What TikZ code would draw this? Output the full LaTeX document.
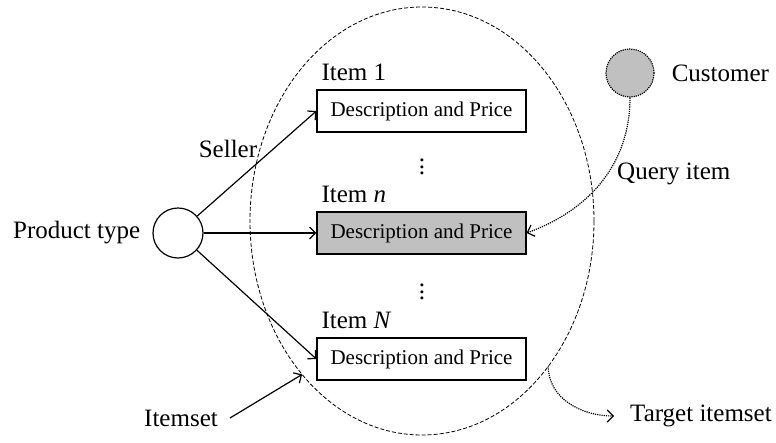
\documentclass[tikz,border=0pt]{standalone}
\usepackage{fontspec}
\setmainfont{Liberation Serif}
\usetikzlibrary{positioning,arrows.meta,shapes.geometric}
\definecolor{boxgray}{RGB}{192,192,192}
\newcommand{\itemdots}{\vbox{\baselineskip6.2pt\lineskiplimit0pt\hbox{.}\hbox{.}\hbox{.}}}

\tikzset{
  desc/.style={draw,line width=1.2pt,minimum width=209pt,minimum height=42pt,
    inner sep=0pt,font=\fontsize{21}{25}\selectfont},
  lbl/.style={font=\fontsize{25}{30}\selectfont,inner sep=0pt},
  arr/.style={-{Straight Barb[length=6pt,width=12pt]},line width=1.2pt},
  darr/.style={arr,densely dotted},
}

\begin{document}
\begin{tikzpicture}[x=1pt,y=-1pt]
  \useasboundingbox (0,0) rectangle (776,442);
  % the itemset
  \node[draw,ellipse,line width=0.8pt,dash pattern=on 4pt off 2pt,
    inner sep=0pt,outer sep=0pt,minimum width=344pt,minimum height=428pt] (set) at (422,221) {};
  %
  \node[circle,draw,line width=1.2pt,minimum size=50pt] (prod) at (178,233) {};
  \node[lbl,left=12pt of prod] (prodlbl) {Product type};
  %
  \node[desc] (item1) at (421.5,111) {Description and Price};
  \node[desc,fill=boxgray] (itemn) at (421.5,233) {Description and Price};
  \node[desc] (itemN) at (421.5,359) {Description and Price};
  \node[lbl,above right=8pt and 5pt of item1.north west] (lbl1) {Item 1};
  \node[lbl,above right=8pt and 5pt of itemn.north west] (lbln) {Item \textit{n}};
  \node[lbl,above right=8pt and 5pt of itemN.north west] (lblN) {Item \textit{N}};
  \node[lbl] (dots1) at (422,167) {\itemdots};
  \node[lbl] (dots2) at (422,292) {\itemdots};
  %
  \draw[arr] (prod) -- (item1.west);
  \draw[arr] (prod) -- (itemn.west);
  \draw[arr] (prod) -- (itemN.west);
  \node[lbl] (seller) at (228,149) {Seller};
  %
  \node[circle,draw,densely dotted,fill=boxgray,line width=1.2pt,minimum size=48pt] (cust) at (630,73) {};
  \node[lbl,right=17pt of cust] (custlbl) {Customer};
  \draw[darr] (cust.south) to[out=-90,in=20] (itemn.east);
  \node[lbl,anchor=west] (query) at (617,174) {Query item};
  %
  \node[lbl] (itemset) at (181,418) {Itemset};
  \draw[arr] ([xshift=12pt]itemset.east) -- (set.-128);
  \node[lbl,anchor=west] (target) at (630,416) {Target itemset};
  \draw[darr] (set.-49) to[out=-90,in=180] ([xshift=-16pt]target.west);
\end{tikzpicture}
\end{document}
